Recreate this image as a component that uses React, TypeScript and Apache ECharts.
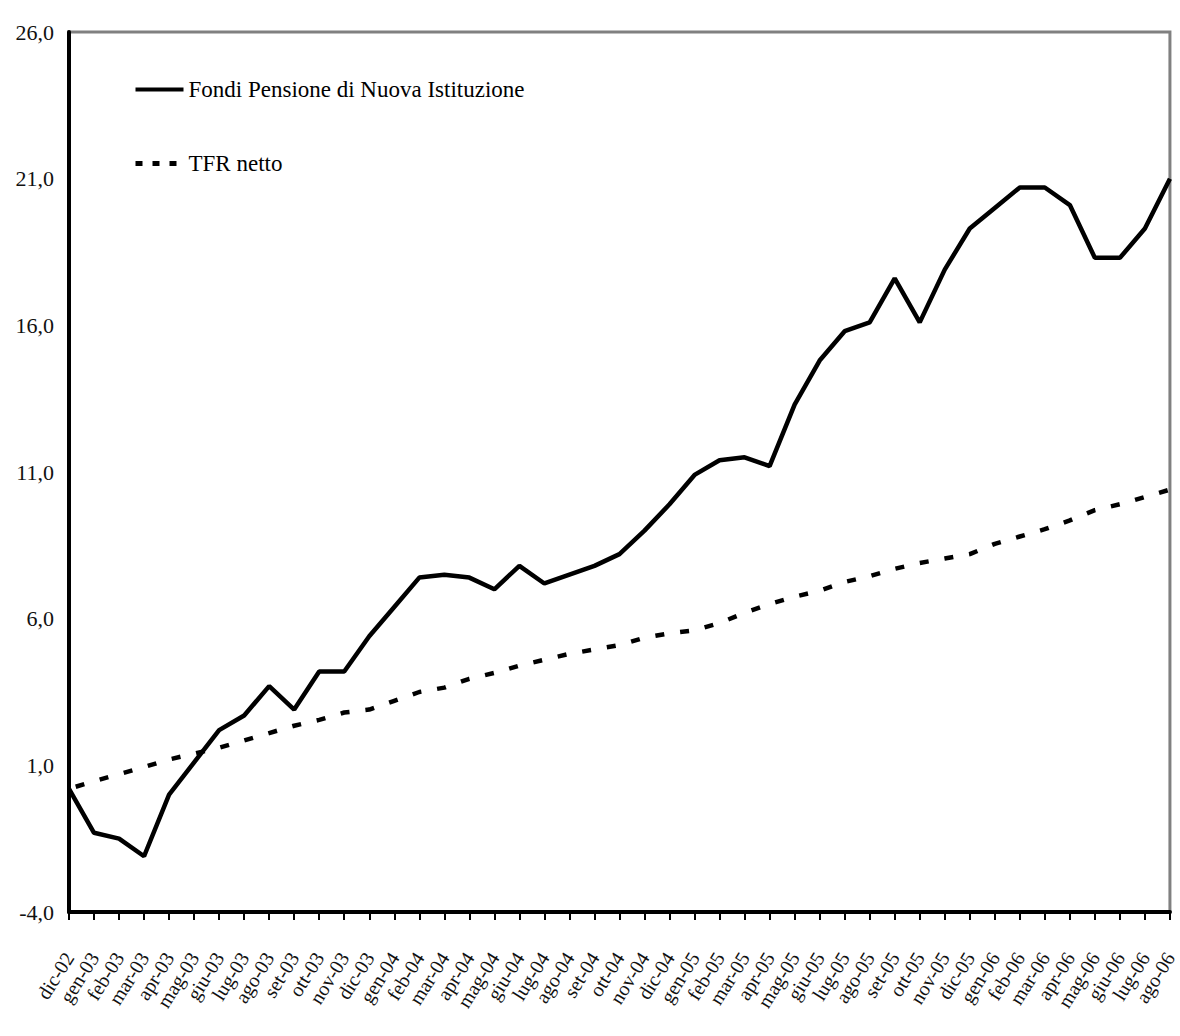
import React, { useEffect, useRef } from "react";
import * as echarts from "echarts";

const categories = [
  "dic-02", "gen-03", "feb-03", "mar-03", "apr-03", "mag-03", "giu-03", "lug-03", "ago-03", "set-03", "ott-03", "nov-03",
  "dic-03", "gen-04", "feb-04", "mar-04", "apr-04", "mag-04", "giu-04", "lug-04", "ago-04", "set-04", "ott-04", "nov-04",
  "dic-04", "gen-05", "feb-05", "mar-05", "apr-05", "mag-05", "giu-05", "lug-05", "ago-05", "set-05", "ott-05", "nov-05",
  "dic-05", "gen-06", "feb-06", "mar-06", "apr-06", "mag-06", "giu-06", "lug-06", "ago-06",
];

const fondiPensione = [
  0.2, -1.3, -1.5, -2.1, 0.0, 1.1, 2.2, 2.7, 3.7, 2.9, 4.2, 4.2,
  5.4, 6.4, 7.4, 7.5, 7.4, 7.0, 7.8, 7.2, 7.5, 7.8, 8.2, 9.0,
  9.9, 10.9, 11.4, 11.5, 11.2, 13.3, 14.8, 15.8, 16.1, 17.6, 16.1, 17.9,
  19.3, 20.0, 20.7, 20.7, 20.1, 18.3, 18.3, 19.3, 21.0,
];

const tfrNetto = [
  0.2, 0.46, 0.7, 0.94, 1.2, 1.4, 1.6, 1.85, 2.1, 2.35, 2.55, 2.8,
  2.9, 3.2, 3.5, 3.65, 3.95, 4.15, 4.4, 4.6, 4.8, 4.95, 5.1, 5.35,
  5.5, 5.6, 5.85, 6.2, 6.5, 6.75, 6.95, 7.25, 7.45, 7.7, 7.9, 8.05,
  8.2, 8.55, 8.8, 9.05, 9.35, 9.7, 9.9, 10.15, 10.4,
];

const seriesNames = ["Fondi Pensione di Nuova Istituzione", "TFR netto"];

const FONT = "'Liberation Serif', 'Times New Roman', serif";

export default function App() {
  const ref = useRef<HTMLDivElement>(null);

  useEffect(() => {
    document.body.style.margin = "0";
    if (!ref.current) return;
    const chart = echarts.init(ref.current, null, { renderer: "svg" });
    chart.setOption({
      animation: false,
      backgroundColor: "#ffffff",
      grid: {
        left: 69,
        right: 2,
        top: 32,
        bottom: 124,
        show: true,
        borderColor: "#808080",
        borderWidth: 3,
        backgroundColor: "transparent",
      },
      legend: {
        orient: "vertical",
        left: 133,
        top: 78,
        padding: 0,
        itemWidth: 48,
        itemHeight: 24,
        itemGap: 51,
        textStyle: { fontFamily: FONT, fontSize: 23, color: "#000" },
        itemStyle: { color: "transparent", borderColor: "transparent", borderWidth: 0, opacity: 0 },
        lineStyle: { width: 4 },
        data: [
          { name: seriesNames[0], lineStyle: { type: "solid", width: 4, color: "#000" } },
          { name: seriesNames[1], lineStyle: { type: [7, 10], dashOffset: 0, width: 5, color: "#000" } },
        ],
      },
      xAxis: {
        type: "category",
        data: categories,
        boundaryGap: false,
        axisLine: { show: true, onZero: false, lineStyle: { color: "#000", width: 4 } },
        axisTick: { show: true, interval: 0, length: 8, lineStyle: { color: "#000", width: 2 } },
        axisLabel: {
          interval: 0,
          rotate: 58,
          margin: 42,
          fontFamily: FONT,
          fontSize: 20,
          color: "#111",
        },
        splitLine: { show: false },
      },
      yAxis: {
        type: "value",
        min: -4,
        max: 26,
        interval: 5,
        axisLine: { show: true, lineStyle: { color: "#000", width: 4 } },
        axisTick: { show: false },
        splitLine: { show: false },
        axisLabel: {
          margin: 15,
          fontFamily: FONT,
          fontSize: 22,
          color: "#111",
          formatter: (v: number) => v.toFixed(1).replace(".", ","),
        },
      },
      series: [
        {
          name: seriesNames[0],
          type: "line",
          data: fondiPensione,
          symbol: "none",
          lineStyle: { color: "#000", width: 4.5, type: "solid" },
          itemStyle: { color: "#000" },
        },
        {
          name: seriesNames[1],
          type: "line",
          data: tfrNetto,
          symbol: "none",
          lineStyle: { color: "#000", width: 4.5, type: [9, 16], dashOffset: 18 },
          itemStyle: { color: "#000" },
        },
      ],
    });
    return () => chart.dispose();
  }, []);

  return <div ref={ref} style={{ width: 1180, height: 1036 }} />;
}
